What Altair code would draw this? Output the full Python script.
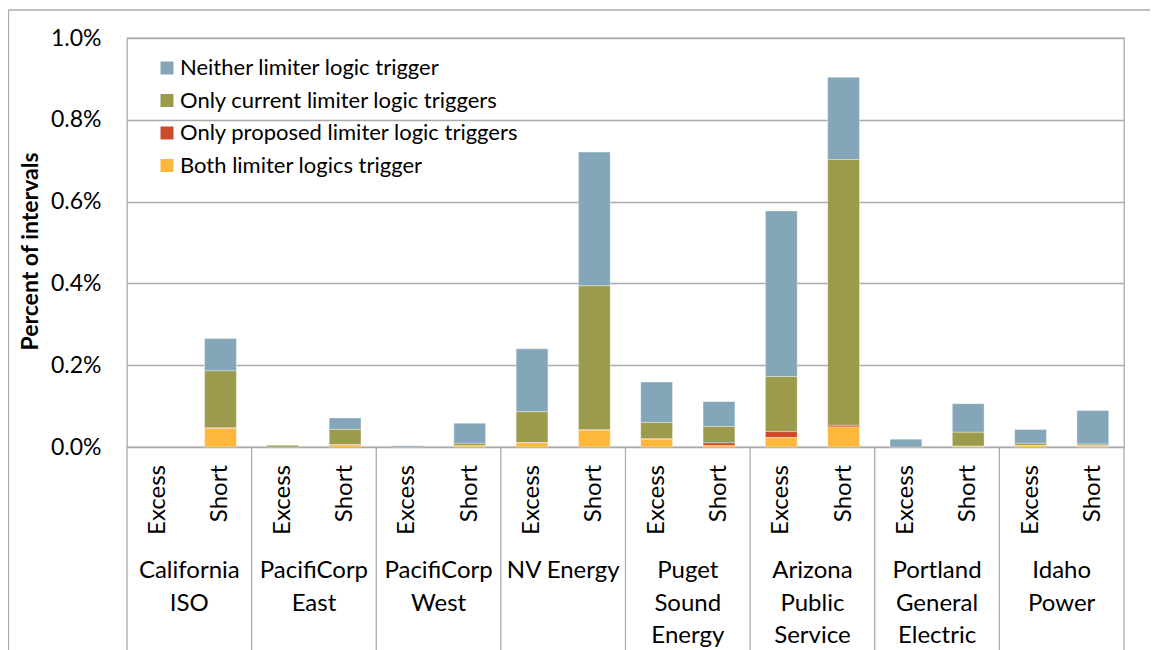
import altair as alt
import pandas as pd

groups = ["California ISO", "PacifiCorp East", "PacifiCorp West", "NV Energy",
          "Puget Sound Energy", "Arizona Public Service", "Portland General Electric", "Idaho Power"]
group_labels = ["California\nISO", "PacifiCorp\nEast", "PacifiCorp\nWest", "NV Energy",
                "Puget\nSound\nEnergy", "Arizona\nPublic\nService", "Portland\nGeneral\nElectric", "Idaho\nPower"]
subs = ["Excess", "Short"]
series = ["Neither limiter logic trigger", "Only current limiter logic triggers",
          "Only proposed limiter logic triggers", "Both limiter logics trigger"]
colors = ["#84a6b9", "#9b9b4b", "#cc4b2b", "#fdb83c"]

# percent of intervals; per group: Excess, Short
both = [0.000, 0.045, 0.000, 0.005, 0.000, 0.003, 0.010, 0.041,
        0.019, 0.003, 0.023, 0.049, 0.000, 0.002, 0.004, 0.002]
proposed = [0.000, 0.002, 0.000, 0.001, 0.000, 0.000, 0.001, 0.001,
            0.001, 0.007, 0.015, 0.004, 0.000, 0.000, 0.000, 0.001]
current = [0.000, 0.139, 0.004, 0.037, 0.000, 0.006, 0.075, 0.352,
           0.040, 0.040, 0.134, 0.650, 0.000, 0.034, 0.005, 0.004]
neither = [0.000, 0.079, 0.000, 0.028, 0.003, 0.049, 0.154, 0.327,
           0.099, 0.061, 0.405, 0.201, 0.019, 0.070, 0.034, 0.082]

FONT = "Lato"
GRID = "#ababab"

keys = [f"{gi}|{s}" for gi in range(len(groups)) for s in subs]
rows = []
for i, k in enumerate(keys):
    for si, (name, vals) in enumerate(zip(series, [neither, current, proposed, both])):
        v = vals[i]
        if v > 0:
            rows.append({"key": k, "series": name, "value": v, "ord": 3 - si})
df = pd.DataFrame(rows)

key_scale = alt.Scale(type="band", domain=keys, paddingInner=0.49, paddingOuter=0.245)
grp_scale = alt.Scale(type="band", domain=groups, paddingInner=0, paddingOuter=0)

bars = alt.Chart(df).mark_bar(stroke="#ffffff", strokeWidth=0.6, strokeOpacity=0.6).encode(
    x=alt.X("key:N", scale=key_scale, axis=None),
    y=alt.Y("value:Q", stack="zero", scale=alt.Scale(domain=[0, 1]),
            axis=alt.Axis(values=[0, 0.2, 0.4, 0.6, 0.8, 1.0],
                          labelExpr="format(datum.value, '.1f') + '%'",
                          title="Percent of intervals", titleFontWeight="bold",
                          titleFontSize=23, titleFont=FONT, titleColor="black",
                          titleX=-90, titleY=213, titleAngle=270, titleAlign="center",
                          titleBaseline="alphabetic",
                          labelFont=FONT, labelFontSize=23, labelColor="black",
                          labelPadding=26, ticks=False, tickSize=0, domain=False,
                          grid=True, gridColor=GRID, gridWidth=1.3)),
    color=alt.Color("series:N", scale=alt.Scale(domain=series, range=colors),
                    legend=alt.Legend(title=None, orient="none", legendX=29, legendY=19)),
    order=alt.Order("ord:Q", sort="ascending"),
)

sub_df = pd.DataFrame({"key": keys, "sub": subs * len(groups)})
sub_text = alt.Chart(sub_df).mark_text(angle=270, align="right", baseline="middle",
                                       font=FONT, fontSize=24, color="black").encode(
    x=alt.X("key:N", scale=key_scale, axis=None),
    y=alt.value(427),
    text="sub:N",
)

grp_df = pd.DataFrame({"group": groups, "label": group_labels})
grp_text = alt.Chart(grp_df).mark_text(lineBreak="\n", lineHeight=32.5, baseline="alphabetic",
                                       align="center", font=FONT, fontSize=24, color="black").encode(
    x=alt.X("group:N", scale=grp_scale, axis=None),
    y=alt.value(540),
    text="label:N",
)

sep_rules = alt.Chart(grp_df).mark_rule(color=GRID, strokeWidth=1.3).encode(
    x=alt.X("group:N", scale=grp_scale, axis=None, bandPosition=0),
    y=alt.value(409),
    y2=alt.value(660),
)

edge_df = pd.DataFrame({"edge": ["right"]})
right_rule = alt.Chart(edge_df).mark_rule(color=GRID, strokeWidth=1.3).encode(
    x=alt.value(997), y=alt.value(409), y2=alt.value(660))
frame_left = alt.Chart(edge_df).mark_rule(color=GRID, strokeWidth=1.3).encode(
    x=alt.value(-118.5), y=alt.value(-28), y2=alt.value(660))
frame_top = alt.Chart(edge_df).mark_rule(color=GRID, strokeWidth=1.3).encode(
    x=alt.value(-118.5), x2=alt.value(1030), y=alt.value(-28))

chart = alt.layer(
    frame_left, frame_top, sep_rules, right_rule, bars, sub_text, grp_text
).resolve_scale(x="independent").properties(
    width=997, height=409,
    autosize=alt.AutoSizeParams(type="none"),
    padding={"left": 119, "top": 30, "right": 26, "bottom": 203},
).configure_view(
    stroke=GRID, strokeWidth=1.3
).configure_legend(
    padding=0, symbolType="square", symbolSize=169, symbolStrokeWidth=0,
    labelFont=FONT, labelFontSize=22, labelColor="black", labelOffset=2,
    rowPadding=10.5, labelLimit=500
)

chart.save("out.html", embed_options={"renderer": "svg", "actions": False})
